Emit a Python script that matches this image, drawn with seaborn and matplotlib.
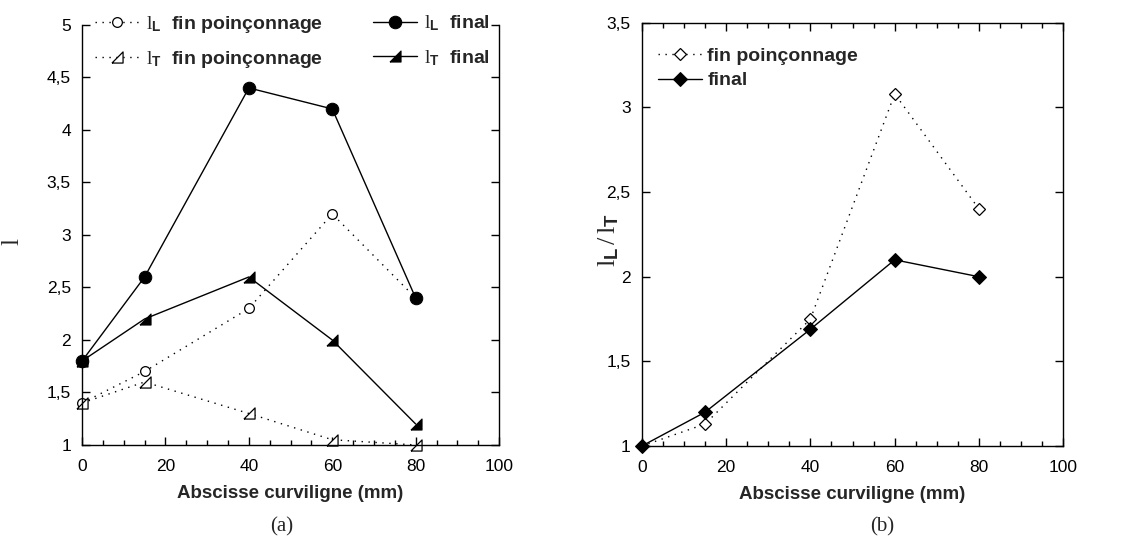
import numpy as np
import matplotlib
matplotlib.use("Agg")
import matplotlib.pyplot as plt
import seaborn as sns
from matplotlib.ticker import MultipleLocator, FuncFormatter

# data
abscisse = [0, 15, 40, 60, 80]
lL_fin = [1.4, 1.7, 2.3, 3.2, 2.4]
lT_fin = [1.4, 1.6, 1.3, 1.05, 1.0]
lL_final = [1.8, 2.6, 4.4, 4.2, 2.4]
lT_final = [1.8, 2.2, 2.6, 2.0, 1.2]
ratio_fin = [1.0, 1.13, 1.75, 3.08, 2.4]
ratio_final = [1.0, 1.2, 1.69, 2.1, 2.0]

sns.set_theme(style="ticks")
plt.rcParams["font.family"] = ["Liberation Sans", "DejaVu Sans"]
plt.rcParams["mathtext.fontset"] = "custom"
plt.rcParams["mathtext.rm"] = "Liberation Serif"
plt.rcParams["mathtext.bf"] = "Liberation Sans:bold"
plt.rcParams["mathtext.it"] = "Liberation Serif:italic"

right_tri = [(-1, -1), (1, -1), (1, 1), (-1, -1)]
dot = (0, (1, 4))


def comma(v, pos):
    return f"{v:g}".replace(".", ",")


def style_axis(ax, ymin, ymax, top=True):
    ax.set_xlim(0, 100)
    ax.set_ylim(ymin, ymax)
    ax.xaxis.set_major_locator(MultipleLocator(20))
    ax.xaxis.set_minor_locator(MultipleLocator(5))
    ax.yaxis.set_major_locator(MultipleLocator(0.5))
    ax.yaxis.set_major_formatter(FuncFormatter(comma))
    ax.tick_params(which="both", direction="in", top=top, right=True,
                   labelsize=12.5, colors="black", width=1, pad=8)
    ax.tick_params(axis="x", which="both", pad=10)
    ax.tick_params(which="major", length=6)
    ax.tick_params(which="minor", length=3.5)
    ax.tick_params(axis="y", which="minor", left=False, right=False)
    for s in ax.spines.values():
        s.set_color("black")
        s.set_linewidth(1)
    ax.spines["top"].set_visible(top)
    ax.set_xlabel("Abscisse curviligne (mm)", fontsize=13.5, fontweight="bold",
                  labelpad=8)


fig = plt.figure(figsize=(11.24, 5.42), dpi=100)
ax1 = fig.add_axes([0.073, 0.179, 0.371, 0.775])
ax2 = fig.add_axes([0.571, 0.177, 0.375, 0.781])

lab_L = r"$\mathrm{l}_{\mathbf{L}}$"
lab_T = r"$\mathrm{l}_{\mathbf{T}}$"

# (a)
sns.lineplot(x=abscisse, y=lL_fin, ax=ax1, color="black", lw=1, linestyle=dot,
             marker="o", ms=7, mfc="white", mec="black", mew=0.9, clip_on=False,
             label=lab_L + "  fin poinçonnage")
sns.lineplot(x=abscisse, y=lT_fin, ax=ax1, color="black", lw=1, linestyle=dot,
             marker=right_tri, ms=8, mfc="white", mec="black", mew=0.9, clip_on=False,
             label=lab_T + "  fin poinçonnage")
sns.lineplot(x=abscisse, y=lL_final, ax=ax1, color="black", lw=1,
             marker="o", ms=9, mfc="black", mec="black", clip_on=False,
             label=lab_L + "  final")
sns.lineplot(x=abscisse, y=lT_final, ax=ax1, color="black", lw=1,
             marker=right_tri, ms=8, mfc="black", mec="black", clip_on=False,
             label=lab_T + "  final")
style_axis(ax1, 1, 5, top=False)
ax1.set_ylabel(r"$\mathrm{l}$", fontsize=18, rotation=90)
ax1.yaxis.set_label_coords(-0.14, 0.483)
ax1.legend(ncol=2, loc="upper left", bbox_to_anchor=(0.031, 1.027), frameon=False,
           prop={"weight": "bold", "size": 14}, handlelength=2.25,
           handletextpad=0.35, columnspacing=2.6, borderpad=0, borderaxespad=0,
           labelspacing=0.75)

# (b)
sns.lineplot(x=abscisse, y=ratio_fin, ax=ax2, color="black", lw=1, linestyle=dot,
             marker="D", ms=6, mfc="white", mec="black", mew=0.9, clip_on=False,
             label="fin poinçonnage")
sns.lineplot(x=abscisse, y=ratio_final, ax=ax2, color="black", lw=1,
             marker="D", ms=7, mfc="black", mec="black", clip_on=False,
             label="final")
style_axis(ax2, 1, 3.5, top=True)
ax2.set_ylabel(r"$\mathrm{l}_{\mathbf{L}}\,/\,\mathrm{l}_{\mathbf{T}}$", fontsize=19)
ax2.yaxis.set_label_coords(-0.05, 0.487)
ax2.legend(loc="upper left", bbox_to_anchor=(0.038, 0.942), frameon=False,
           prop={"weight": "bold", "size": 14}, handlelength=2.25,
           handletextpad=0.3, borderpad=0, borderaxespad=0, labelspacing=0.35)

fig.text(0.251, 0.028, "(a)", family="Liberation Serif", fontsize=15,
         ha="center", va="center")
fig.text(0.785, 0.028, "(b)", family="Liberation Serif", fontsize=15,
         ha="center", va="center")

fig.savefig("out.png", dpi=100)
